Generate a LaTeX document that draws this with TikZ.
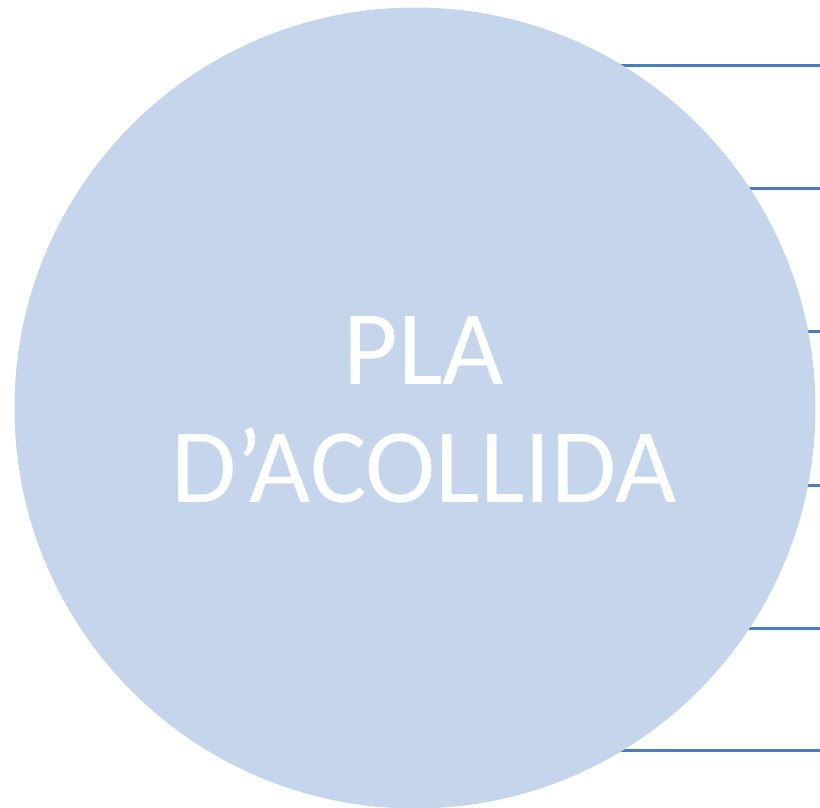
\documentclass[tikz,border=0pt]{standalone}
\usepackage{fontspec}
\setmainfont{Carlito}
\definecolor{cercle}{HTML}{C5D5EB}
\definecolor{linia}{HTML}{4A7EBB}

\begin{document}
\begin{tikzpicture}[x=1pt,y=-1pt]
      \useasboundingbox (0,0) rectangle (820,808);
      \coordinate (c) at (415,408);
      \coordinate (r1) at (820,66);
      \coordinate (r2) at (820,188);
      \coordinate (r3) at (820,331);
      \coordinate (r4) at (820,485);
      \coordinate (r5) at (820,628);
      \coordinate (r6) at (820,750);
      \draw[linia, line width=3pt] (c |- r1) -- (r1);
      \draw[linia, line width=3pt] (c |- r2) -- (r2);
      \draw[linia, line width=3pt] (c |- r3) -- (r3);
      \draw[linia, line width=3pt] (c |- r4) -- (r4);
      \draw[linia, line width=3pt] (c |- r5) -- (r5);
      \draw[linia, line width=3pt] (c |- r6) -- (r6);
      \node[circle, fill=cercle, inner sep=0pt, minimum size=801pt] (pla) at (c) {};
      \node[text=white, align=center, inner sep=0pt, font=\fontsize{106}{118}\selectfont] (titol) at (424,409.5) {PLA\\D’ACOLLIDA};
    \end{tikzpicture}
\end{document}
